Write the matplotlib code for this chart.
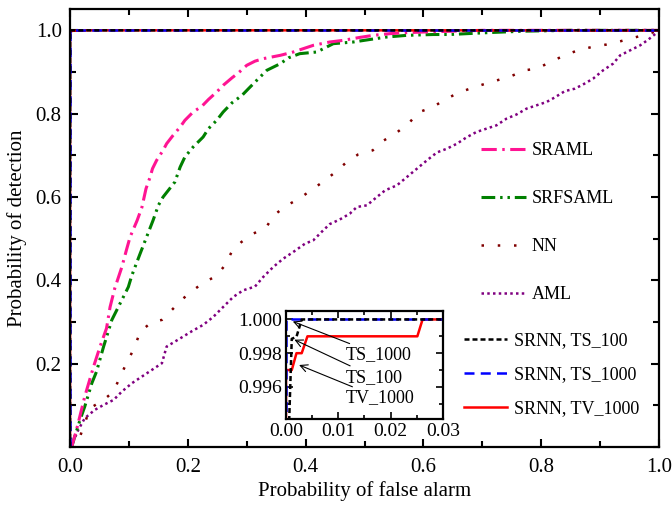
import matplotlib
matplotlib.use('Agg')
import numpy as np
import matplotlib.pyplot as plt
from matplotlib.ticker import MultipleLocator, FormatStrFormatter

plt.rcParams['font.family'] = ['Liberation Serif', 'DejaVu Serif']
plt.rcParams['font.size'] = 15

# ROC curves (false alarm, detection)
sraml_fa = [0, .003, .011, .025, .04, .051, .062, .068, .076, .088, .096, .102, .114, .122,
            .129, .136, .14, .147, .158, .164, .175, .187, .195, .209, .224, .235, .249, .26,
            .275, .286, .30, .314, .328, .357, .379, .413, .441, .464, .492, .515, .543, .566,
            .60, .65, .70, 1.0]
sraml_pd = [0, .001, .041, .121, .193, .241, .285, .336, .381, .432, .474, .504, .544, .575,
            .62, .648, .668, .688, .712, .728, .748, .768, .784, .804, .818, .834, .852, .868,
            .886, .898, .916, .926, .932, .94, .948, .964, .972, .976, .983, .988, .992, .994,
            .996, .998, 1.0, 1.0]

srfsaml_fa = [0, .003, .008, .017, .025, .037, .045, .057, .071, .082, .099, .105, .119, .13,
              .141, .15, .158, .178, .187, .195, .209, .226, .235, .249, .26, .275, .292, .303,
              .317, .334, .357, .371, .39, .419, .447, .481, .509, .538, .572, .617, .645, .702,
              .77, .85, 1.0]
srfsaml_pd = [0, .001, .025, .065, .097, .153, .181, .241, .305, .336, .384, .412, .464, .504,
              .544, .58, .60, .636, .672, .696, .72, .744, .764, .784, .804, .826, .844, .86,
              .88, .904, .92, .934, .944, .948, .968, .972, .978, .984, .988, .99, .99, .994,
              .998, 1.0, 1.0]

nn_fa = [0, .017, .034, .057, .074, .085, .096, .106, .12, .139, .156, .173, .19, .208, .226,
         .248, .263, .274, .291, .311, .333, .346, .367, .389, .409, .428, .45, .469, .489, .514,
         .532, .555, .576, .591, .615, .637, .659, .683, .701, .725, .749, .771, .793, .818, .84,
         .862, .886, .911, .935, .959, .983, 1.0]
nn_pd = [0, .025, .093, .113, .133, .169, .201, .229, .278, .30, .305, .329, .354, .375, .394,
         .41, .436, .467, .492, .512, .527, .556, .579, .596, .616, .635, .659, .683, .702, .712,
         .735, .755, .778, .803, .815, .834, .85, .862, .87, .88, .89, .904, .908, .926, .94,
         .952, .96, .966, .974, .983, .992, 1.0]

aml_fa = [0, .003, .014, .025, .042, .057, .074, .088, .105, .122, .139, .156, .164, .184, .207,
          .226, .243, .26, .277, .294, .314, .328, .345, .362, .379, .399, .413, .427, .441, .458,
          .475, .487, .504, .521, .535, .555, .572, .589, .606, .623, .64, .657, .673, .69, .707,
          .724, .741, .758, .775, .792, .809, .823, .84, .857, .871, .888, .905, .922, .934, .951,
          .968, .982, .996, 1.0]
aml_pd = [0, .005, .041, .069, .089, .101, .113, .133, .153, .169, .185, .201, .241, .258, .278,
          .293, .312, .336, .36, .376, .385, .408, .432, .452, .468, .488, .496, .516, .535, .546,
          .56, .576, .58, .60, .616, .628, .648, .668, .688, .707, .716, .728, .743, .756, .764,
          .772, .788, .798, .812, .82, .828, .839, .854, .86, .87, .884, .904, .92, .94, .952,
          .964, .978, .994, 1.0]

ts100_fa = [0, 0.0002, 0.0011, 0.002, 0.003, 1.0]
ts100_pd = [0, 0.99, 0.99885, 0.99897, 1.0, 1.0]
ts1000_fa = [0, 0, 1.0]
ts1000_pd = [0, 1.0, 1.0]
tv1000_fa = [0, 0, 0.0011, 0.002, 0.003, 0.0041, 0.0251, 0.0261, 1.0]
tv1000_pd = [0, 0.997, 0.997, 0.998, 0.998, 0.999, 0.999, 1.0, 1.0]

fig = plt.figure(figsize=(6.72, 5.08), dpi=100)
ax = fig.add_axes([0.1042, 0.1201, 0.8765, 0.8612])


def srnn_lines(a):
    r, = a.plot(tv1000_fa, tv1000_pd, color='red', lw=1.8, label='SRNN, TV_1000')
    b, = a.plot(ts1000_fa, ts1000_pd, color='blue', lw=1.8, dashes=(4, 2.5), label='SRNN, TS_1000')
    k, = a.plot(ts100_fa, ts100_pd, color='black', lw=1.8, dashes=(2, 1.2), label='SRNN, TS_100')
    return k, b, r


l_aml, = ax.plot(aml_fa, aml_pd, color='#800080', lw=1.8, ls=(0, (1, 1.3)), label='AML')
l_nn, = ax.plot(nn_fa, nn_pd, color='#800000', lw=1.8, ls=(0, (1, 5.5)), label='NN')
l_srf, = ax.plot(srfsaml_fa, srfsaml_pd, color='#008000', lw=2.2,
                 ls=(0, (4.5, 1.6, 0.8, 1.6, 0.8, 1.6)), label='SRFSAML')
l_sra, = ax.plot(sraml_fa, sraml_pd, color='#FF1493', lw=2.2,
                 ls=(0, (5, 1.8, 0.8, 1.8)), label='SRAML')
k, b, r = srnn_lines(ax)

ax.set_xlim(0, 1)
ax.set_ylim(0, 1.05)
ax.xaxis.set_major_locator(MultipleLocator(0.2))
ax.xaxis.set_minor_locator(MultipleLocator(0.1))
ax.set_yticks([0.2, 0.4, 0.6, 0.8, 1.0])
ax.yaxis.set_minor_locator(MultipleLocator(0.1))
ax.xaxis.set_major_formatter(FormatStrFormatter('%.1f'))
ax.yaxis.set_major_formatter(FormatStrFormatter('%.1f'))
ax.tick_params(which='both', direction='in', top=True, right=True, width=1.5, labelsize=15)
ax.tick_params(which='major', length=6, pad=6)
ax.tick_params(axis='x', which='major', pad=8)
ax.tick_params(which='minor', length=4)
for s in ax.spines.values():
    s.set_linewidth(1.6)
ax.set_xlabel('Probability of false alarm', fontsize=15, labelpad=3)
ax.set_ylabel('Probability of detection', fontsize=15, labelpad=6)

leg1 = ax.legend(handles=[l_sra, l_srf, l_nn, l_aml], loc='center left',
                 bbox_to_anchor=(481 / 672, 1 - 222.5 / 508), bbox_transform=fig.transFigure,
                 frameon=False, fontsize=13, handlelength=2.5, handletextpad=0.3,
                 labelspacing=1.72, borderpad=0, borderaxespad=0)
ax.add_artist(leg1)
ax.legend(handles=[k, b, r], loc='center left',
          bbox_to_anchor=(464 / 672, 1 - 374.5 / 508), bbox_transform=fig.transFigure,
          frameon=False, fontsize=13, handlelength=2.4, handletextpad=0.35,
          labelspacing=0.95, borderpad=0, borderaxespad=0)

# zoomed inset near the top-left corner
ins = fig.add_axes([0.4256, 0.1752, 0.2336, 0.2126])
srnn_lines(ins)
ins.set_xlim(0, 0.03)
ins.set_ylim(0.9941, 1.0005)
ins.xaxis.set_major_locator(MultipleLocator(0.01))
ins.xaxis.set_minor_locator(MultipleLocator(0.005))
ins.set_yticks([0.996, 0.998, 1.000])
ins.yaxis.set_minor_locator(MultipleLocator(0.001))
ins.xaxis.set_major_formatter(FormatStrFormatter('%.2f'))
ins.yaxis.set_major_formatter(FormatStrFormatter('%.3f'))
ins.tick_params(which='both', direction='in', top=True, right=True, width=1.2, labelsize=14)
ins.tick_params(which='major', length=5, pad=3)
ins.tick_params(which='minor', length=3)
for s in ins.spines.values():
    s.set_linewidth(1.6)

arrow = dict(arrowstyle='->', lw=0.8, color='black', shrinkA=0, shrinkB=0)
ins.annotate('TS_1000', xy=(0.0013, 0.99988), xytext=(0.0114, 0.9979),
             ha='left', va='center', fontsize=13, arrowprops=arrow)
ins.annotate('TS_100', xy=(0.0016, 0.9988), xytext=(0.0114, 0.99658),
             ha='left', va='center', fontsize=13, arrowprops=arrow)
ins.annotate('TV_1000', xy=(0.0025, 0.9973), xytext=(0.0114, 0.99534),
             ha='left', va='center', fontsize=13, arrowprops=arrow)

fig.savefig('out.png', dpi=100)
